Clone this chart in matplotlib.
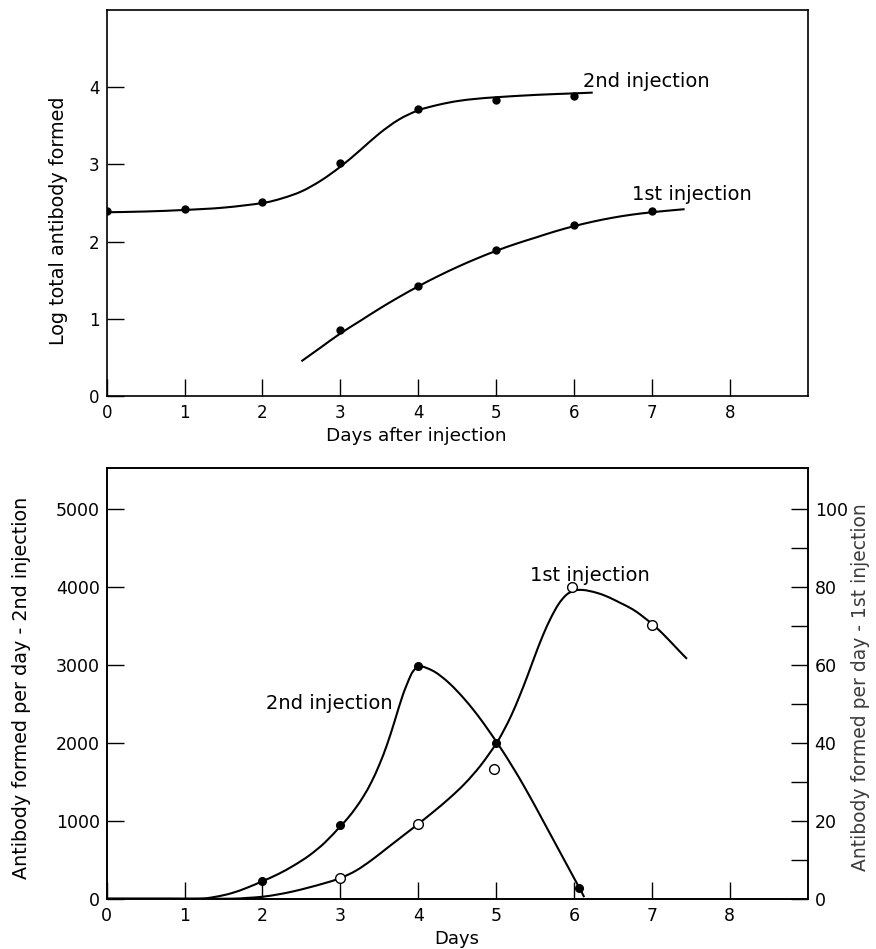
import matplotlib
matplotlib.use("Agg")
import matplotlib.pyplot as plt
from matplotlib.path import Path
from matplotlib.patches import PathPatch
import numpy as np

plt.rcParams['font.family'] = ['DejaVu Sans']

# ---------------- data: top panel (log total antibody) ----------------
top_days_2nd = [0, 1, 2, 3, 4, 5, 6]
top_vals_2nd = [2.39, 2.42, 2.51, 3.02, 3.72, 3.84, 3.88]
top_days_1st = [3, 4, 5, 6, 7]
top_vals_1st = [0.85, 1.43, 1.89, 2.21, 2.39]

# fitted curves as drawn in the figure
top_curve2_x = [0, 0.5, 1.0, 1.5, 2.0, 2.25, 2.5, 2.75, 3.0, 3.25, 3.5, 3.75,
                4.0, 4.25, 4.5, 4.75, 5.0, 5.5, 6.0, 6.24]
top_curve2_y = [2.38, 2.39, 2.41, 2.44, 2.50, 2.56, 2.65, 2.79, 2.97, 3.18, 3.40, 3.58,
                3.70, 3.77, 3.82, 3.85, 3.87, 3.90, 3.92, 3.93]
top_curve1_x = [2.5, 2.75, 3.0, 3.25, 3.5, 3.75, 4.0, 4.25, 4.5, 4.75, 5.0, 5.25,
                5.5, 5.75, 6.0, 6.25, 6.5, 6.75, 7.0, 7.2, 7.42]
top_curve1_y = [0.45, 0.63, 0.81, 0.97, 1.13, 1.28, 1.42, 1.55, 1.67, 1.78, 1.88, 1.97,
                2.05, 2.13, 2.20, 2.26, 2.31, 2.35, 2.38, 2.40, 2.42]

# ---------------- data: bottom panel (antibody per day) ----------------
bot_days_2nd = [2, 3, 4, 5, 6.07]
bot_vals_2nd = [222, 946, 2985, 2003, 133]          # left axis
bot_days_1st = [3, 4, 4.97, 5.97, 7.0]
bot_vals_1st = [5.2, 19.2, 33.2, 80.0, 70.4]        # right axis

bot_curve2_x = [0, 0.4, 0.8, 1.2, 1.4, 1.6, 1.8, 2.0, 2.2, 2.4, 2.6, 2.8, 3.0,
                3.1, 3.2, 3.3, 3.4, 3.5, 3.6, 3.7, 3.8, 3.9, 3.95, 4.0, 4.05,
                4.1, 4.2, 4.3, 4.4, 4.5, 4.6, 4.7, 4.8, 4.9, 5.0, 5.1, 5.2, 5.3,
                5.4, 5.5, 5.6, 5.7, 5.8, 5.9, 6.0, 6.1, 6.13]
bot_curve2_y = [0, 0, 0, 0, 25, 70, 140, 225, 315, 425, 555, 720, 930,
                1040, 1170, 1320, 1500, 1720, 1980, 2290, 2610, 2860, 2940, 2975, 2980,
                2965, 2920, 2850, 2765, 2665, 2555, 2435, 2305, 2165, 2020, 1870, 1710, 1545,
                1370, 1190, 1005, 820, 635, 450, 265, 80, 20]
bot_curve1_x = [0, 0.4, 0.8, 1.2, 1.6, 1.8, 2.0, 2.2, 2.4, 2.6, 2.8, 3.0, 3.2, 3.4,
                3.6, 3.8, 4.0, 4.2, 4.4, 4.6, 4.8, 5.0, 5.1, 5.2, 5.3, 5.4, 5.5, 5.6,
                5.7, 5.8, 5.9, 6.0, 6.1, 6.2, 6.3, 6.4, 6.5, 6.6, 6.7, 6.8, 6.9, 7.0,
                7.1, 7.2, 7.3, 7.4, 7.45]
bot_curve1_y = [0, 0, 0, 0, 0, 0.2, 0.5, 1.1, 1.9, 2.9, 4.0, 5.3, 7.2, 9.9,
                13.0, 16.1, 19.2, 22.4, 25.8, 29.6, 34.2, 39.8, 43.3, 47.3, 52.0, 57.1, 62.5, 67.6,
                72.0, 75.6, 78.0, 79.1, 79.3, 79.0, 78.5, 77.8, 76.9, 75.9, 74.9, 73.7, 72.2, 70.6,
                68.8, 66.8, 64.7, 62.6, 61.6]

x_ticks = [0, 1, 2, 3, 4, 5, 6, 7, 8]
top_yticks = [0, 1, 2, 3, 4]
left_yticks = [0, 1000, 2000, 3000, 4000, 5000]
right_yticks = [0, 20, 40, 60, 80, 100]
right_minor = [10, 30, 50, 70, 90]


def smooth_curve(ax, xs, ys, **kw):
    """Draw a smooth (Catmull-Rom as Bezier) path through the listed points."""
    P = np.column_stack([xs, ys]).astype(float)
    n = len(P)
    verts = [P[0]]
    codes = [Path.MOVETO]
    for i in range(n - 1):
        p0 = P[i - 1] if i > 0 else P[i]
        p1, p2 = P[i], P[i + 1]
        p3 = P[i + 2] if i + 2 < n else P[i + 1]
        c1 = p1 + (p2 - p0) / 6.0
        c2 = p2 - (p3 - p1) / 6.0
        verts += [c1, c2, p2]
        codes += [Path.CURVE4] * 3
    patch = PathPatch(Path(verts, codes), facecolor='none', edgecolor='black',
                      transform=ax.transData, capstyle='butt', **kw)
    ax.add_patch(patch)
    return patch


# ---------------- figure ----------------
fig = plt.figure(figsize=(8.76, 9.49), dpi=100)
W, H = 876.0, 949.0

def rect(l, t, r, b):
    return [l / W, 1 - b / H, (r - l) / W, (b - t) / H]

ax1 = fig.add_axes(rect(106.7, 10, 807.7, 396))
ax3 = fig.add_axes(rect(106.7, 468, 807.7, 898.7))

lw_curve = 1.5
for ax in (ax1, ax3):
    for s in ax.spines.values():
        s.set_linewidth(1.2)
    ax.set_xlim(0, 9)
    ax.set_xticks(x_ticks)
    ax.tick_params(direction='in', length=12.5, width=1.0, top=False, right=False,
                   colors='black', pad=5)

# top panel
ax1.set_ylim(0, 5)
smooth_curve(ax1, top_curve2_x, top_curve2_y, lw=lw_curve)
smooth_curve(ax1, top_curve1_x, top_curve1_y, lw=lw_curve)
ax1.plot(top_days_2nd, top_vals_2nd, 'o', color='black', ms=5)
ax1.plot(top_days_1st, top_vals_1st, 'o', color='black', ms=5)
ax1.set_yticks(top_yticks)
ax1.tick_params(axis='both', labelsize=12)
ax1.tick_params(axis='x', pad=6)
ax1.text(6.12, 4.0, '2nd injection', fontsize=14, va='baseline', ha='left')
ax1.text(6.74, 2.54, '1st injection', fontsize=14, va='baseline', ha='left')
ax1.set_xlabel('Days after injection', fontsize=13.3)
ax1.xaxis.label.set_va('baseline')
ax1.xaxis.set_label_coords(3.98 / 9, (396 - 441) / 386.0)
ax1.set_ylabel('Log total antibody formed', fontsize=13.8)
ax1.yaxis.label.set_va('center')
ax1.yaxis.set_label_coords((58 - 106.7) / 701.0, (396 - 221) / 386.0)

# bottom panel
ax3.set_ylim(0, 5530)
smooth_curve(ax3, bot_curve2_x, bot_curve2_y, lw=lw_curve, zorder=2)
ax3.plot(bot_days_2nd, bot_vals_2nd, 'o', color='black', ms=5.5, zorder=3)
ax3.set_yticks(left_yticks)
ax3.tick_params(axis='both', labelsize=12.5)
ax3.tick_params(axis='x', pad=6)

ax4 = ax3.twinx()
ax4.set_ylim(0, 110.6)
smooth_curve(ax4, bot_curve1_x, bot_curve1_y, lw=lw_curve, zorder=2)
ax4.plot(bot_days_1st, bot_vals_1st, 'o', mfc='white', mec='black', mew=1.0, ms=7, zorder=3)
ax4.set_yticks(right_yticks)
ax4.set_yticks(right_minor, minor=True)
ax4.tick_params(axis='y', which='both', direction='in', length=12.5, width=1.0,
                labelsize=12.5, pad=5)
for s in ax4.spines.values():
    s.set_linewidth(1.2)

ax3.text(2.05, 2435, '2nd injection', fontsize=14, va='baseline', ha='left')
ax3.text(5.43, 4085, '1st injection', fontsize=14, va='baseline', ha='left')

ax3.set_xlabel('Days', fontsize=13)
ax3.xaxis.label.set_va('baseline')
ax3.xaxis.set_label_coords(0.5, (898.7 - 944) / 430.7)
ax3.set_ylabel('Antibody formed per day - 2nd injection', fontsize=13.8)
ax3.yaxis.label.set_va('center')
ax3.yaxis.set_label_coords((21.5 - 106.7) / 701.0, (898.7 - 688) / 430.7)
ax4.set_ylabel('Antibody formed per day - 1st injection', fontsize=13.5, color='#3c3c3c')
ax4.yaxis.label.set_va('center')
ax4.yaxis.set_label_coords((860 - 106.7) / 701.0, (898.7 - 687) / 430.7)

fig.savefig('out.png', dpi=100)
